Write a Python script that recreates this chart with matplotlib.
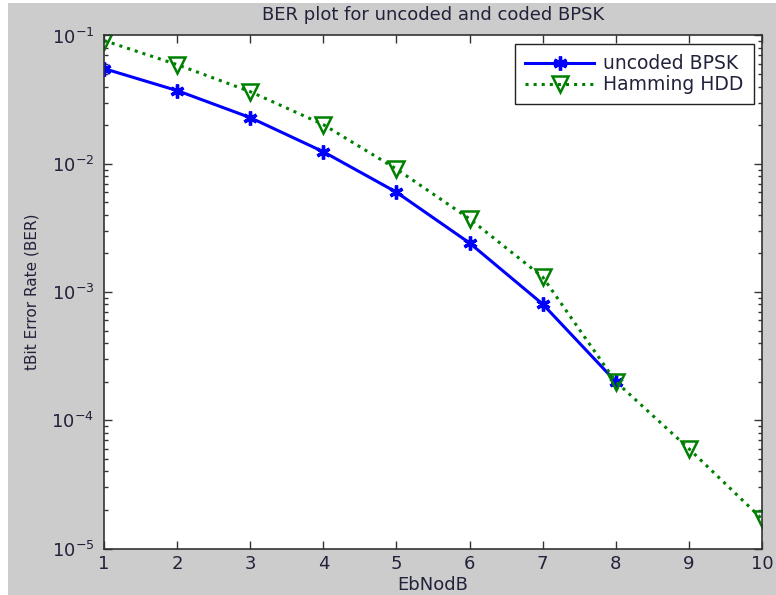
import numpy as np
import matplotlib
matplotlib.use('Agg')
from matplotlib import pyplot as plt
from matplotlib.patches import Rectangle
from matplotlib.ticker import LogLocator

# values
ebno_uncoded = [1, 2, 3, 4, 5, 6, 7, 8]
ber_uncoded = [0.0552, 0.0372, 0.0229, 0.0124, 0.0060, 0.00241, 0.000805, 0.000200]
ebno_hamming = [1, 2, 3, 4, 5, 6, 7, 8, 9, 10]
ber_hamming = [0.0914, 0.0593, 0.0365, 0.0202, 0.0091, 0.00372, 0.00131, 0.000200, 6.0e-5, 1.7e-5]
xticks = list(range(1, 11))

plt.rcParams['font.family'] = ['DejaVu Sans']
plt.rcParams['mathtext.fontset'] = 'dejavusans'
plt.rcParams['mathtext.default'] = 'regular'

textcol = '#22223a'
fontsize = 13

fig = plt.figure(figsize=(7.76, 5.95), dpi=100, facecolor='#cccccc')
# thin white strips at the left and top edges of the screenshot
fig.patches.append(Rectangle((0, 0), 8 / 776, 1, transform=fig.transFigure,
                             facecolor='white', edgecolor='none', zorder=-1))
fig.patches.append(Rectangle((0, 1 - 3 / 595), 1, 3 / 595, transform=fig.transFigure,
                             facecolor='white', edgecolor='none', zorder=-1))

ax = fig.add_axes([104 / 776, 1 - 548.5 / 595, (762 - 104) / 776, (548.5 - 35.5) / 595])
ax.set_facecolor('white')

ax.semilogy(ebno_uncoded, ber_uncoded, '-', color='#0000ff', linewidth=2.2,
            marker=(6, 2, 0), markersize=10, markeredgewidth=2.4, label='uncoded BPSK')
ax.semilogy(ebno_hamming, ber_hamming, ':', color='#008000', linewidth=2.2,
            marker='v', markersize=12, markerfacecolor='none', markeredgewidth=1.8,
            label='Hamming HDD')

ax.set_xlim(1, 10)
ax.set_ylim(1e-5, 1e-1)
ax.set_xticks(xticks)
ax.yaxis.set_minor_locator(LogLocator(base=10, subs=np.arange(2, 10)))

for s in ax.spines.values():
    s.set_color('#333333')
    s.set_linewidth(1.2)
ax.tick_params(which='both', direction='in', top=True, right=True,
               colors='#333333', labelcolor=textcol, labelsize=fontsize)
ax.tick_params(which='major', length=6, width=1)
ax.tick_params(which='minor', length=3, width=1)
ax.tick_params(axis='x', pad=5)
ax.tick_params(axis='y', pad=7)

ax.set_title('BER plot for uncoded and coded BPSK', fontsize=fontsize, color=textcol, pad=11)
ax.set_xlabel('EbNodB', fontsize=fontsize, color=textcol, labelpad=2)
ax.set_ylabel('tBit Error Rate (BER)', fontsize=11, color=textcol)
ax.yaxis.set_label_coords(-0.098, 0.5)

leg = ax.legend(loc='upper right', fontsize=13.5, fancybox=False, framealpha=1,
                edgecolor='#222222', borderaxespad=0.45, handlelength=3.7,
                handletextpad=0.45, borderpad=0.55, labelspacing=0.1)
leg.get_frame().set_linewidth(1.0)
for t in leg.get_texts():
    t.set_color(textcol)

fig.savefig('out.png', dpi=100, facecolor=fig.get_facecolor())
